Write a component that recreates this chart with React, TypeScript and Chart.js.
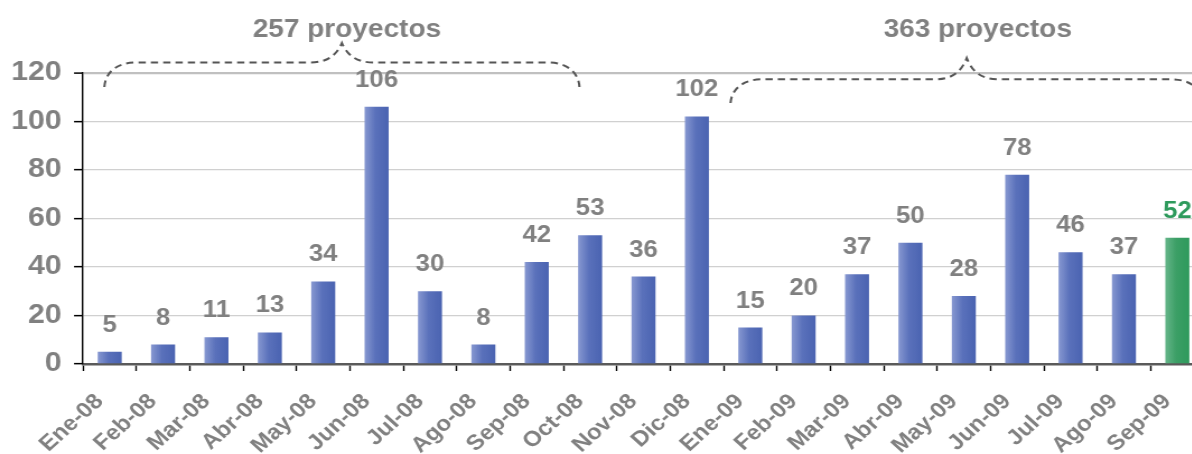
import React, { useEffect, useRef } from "react";
import { Chart, registerables } from "chart.js";

Chart.register(...registerables);

const categories = [
  "Ene-08", "Feb-08", "Mar-08", "Abr-08", "May-08", "Jun-08", "Jul-08", "Ago-08", "Sep-08",
  "Oct-08", "Nov-08", "Dic-08", "Ene-09", "Feb-09", "Mar-09", "Abr-09", "May-09", "Jun-09",
  "Jul-09", "Ago-09", "Sep-09",
];
const projects = [5, 8, 11, 13, 34, 106, 30, 8, 42, 53, 36, 102, 15, 20, 37, 50, 28, 78, 46, 37, 52];
const highlighted = ["Sep-09"];
const yTicks = [0, 20, 40, 60, 80, 100, 120];
const groupLabels = ["257 proyectos", "363 proyectos"];
const groupFirst = ["Ene-08", "Ene-09"];
const groupLast = ["Sep-08", "Sep-09"];

const GRAY = "#808080";
const GREEN = "#2e9a5c";
const FONT = "'Liberation Sans', Arial, sans-serif";

// horizontal stretch of the whole picture (canvas drawn narrower, shown wider)
const K = 1.12;
const CSS_W = 1204;
const CSS_H = 454;
const CANVAS_W = Math.round(CSS_W / K);

const braceStyle = [
  { padL: 0.1, padR: 0.8, flatY: 62.5, endY: 87, peakY: 43, textDx: 5 },
  { padL: 0.37, padR: 0.48, flatY: 79.3, endY: 103, peakY: 58, textDx: 11 },
];

const overlayPlugin = {
  id: "overlay",
  afterDatasetsDraw(chart: any) {
    const ctx = chart.ctx;
    const meta = chart.getDatasetMeta(0);
    ctx.save();
    ctx.font = `bold 23px ${FONT}`;
    ctx.textAlign = "center";
    ctx.textBaseline = "alphabetic";
    meta.data.forEach((bar: any, i: number) => {
      ctx.fillStyle = highlighted.includes(categories[i]) ? GREEN : GRAY;
      ctx.fillText(String(projects[i]), bar.x, bar.y - 20);
    });
    ctx.restore();

    const xs = chart.scales.x;
    const x0 = xs.getPixelForValue(0);
    const step = xs.getPixelForValue(1) - x0;
    const px = (v: number) => x0 + v * step;
    const u = 1 / K;
    ctx.save();
    ctx.strokeStyle = "#555555";
    ctx.lineWidth = 2;
    ctx.setLineDash([6.5, 4.5]);
    groupLabels.forEach((label, g) => {
      const s = braceStyle[g];
      const L = px(categories.indexOf(groupFirst[g]) - s.padL);
      const R = px(categories.indexOf(groupLast[g]) + s.padR);
      const M = (L + R) / 2;
      const F = s.flatY, E = s.endY, P = s.peakY;
      ctx.beginPath();
      ctx.moveTo(L, E);
      ctx.bezierCurveTo(L + 1 * u, F + 10, L + 12 * u, F, L + 32 * u, F);
      ctx.lineTo(M - 32 * u, F);
      ctx.bezierCurveTo(M - 16 * u, F, M - 6 * u, F - 6, M, P);
      ctx.bezierCurveTo(M + 6 * u, F - 6, M + 16 * u, F, M + 32 * u, F);
      ctx.lineTo(R - 32 * u, F);
      ctx.bezierCurveTo(R - 12 * u, F, R - 1 * u, F + 10, R, E);
      ctx.stroke();
      ctx.save();
      ctx.setLineDash([]);
      ctx.fillStyle = GRAY;
      ctx.font = `bold 25px ${FONT}`;
      ctx.textAlign = "center";
      ctx.textBaseline = "alphabetic";
      ctx.fillText(label, M + s.textDx * u, 37);
      ctx.restore();
    });
    ctx.restore();
  },
};

function barFill(context: any) {
  const chart = context.chart;
  const i = context.dataIndex;
  const green = highlighted.includes(categories[i]);
  const base = green ? GREEN : "#4a63b1";
  const xs = chart.scales?.x;
  if (!xs || !chart.chartArea || i === undefined) return base;
  const cx = xs.getPixelForValue(i);
  const half = ((xs.getPixelForValue(1) - xs.getPixelForValue(0)) * 0.45) / 2;
  const g = chart.ctx.createLinearGradient(cx - half, 0, cx + half, 0);
  if (green) {
    g.addColorStop(0, "#66b68a");
    g.addColorStop(0.45, "#3c9f66");
    g.addColorStop(1, "#2e9a5c");
  } else {
    g.addColorStop(0, "#8798d1");
    g.addColorStop(0.45, "#5a71bb");
    g.addColorStop(1, "#4a63b1");
  }
  return g;
}

export default function App() {
  const ref = useRef<HTMLCanvasElement | null>(null);
  useEffect(() => {
    if (!ref.current) return;
    const chart = new Chart(ref.current, {
      type: "bar",
      data: {
        labels: categories,
        datasets: [
          {
            data: projects,
            backgroundColor: barFill,
            barPercentage: 0.45,
            categoryPercentage: 1,
            borderWidth: 0,
          },
        ],
      },
      options: {
        responsive: false,
        animation: false,
        devicePixelRatio: 1,
        layout: { padding: { top: 72.7, left: 0, right: 0, bottom: 0 } },
        plugins: { legend: { display: false }, tooltip: { enabled: false } },
        scales: {
          x: {
            offset: true,
            grid: {
              offset: true,
              drawOnChartArea: false,
              drawTicks: true,
              tickLength: 7,
              tickColor: "#000000",
              tickWidth: 1.4,
            },
            border: { color: "#5a5a5a", width: 2.5 },
            ticks: {
              autoSkip: false,
              minRotation: 45,
              maxRotation: 45,
              color: GRAY,
              padding: 18,
              labelOffset: -9,
              font: { family: FONT, size: 21.5, weight: "bold" },
            },
            afterFit(scale: any) {
              scale.height = CSS_H - 364;
              scale.paddingLeft = 0;
              scale.paddingRight = 0;
            },
          },
          y: {
            min: yTicks[0],
            max: yTicks[yTicks.length - 1],
            afterBuildTicks(scale: any) {
              scale.ticks = yTicks.map((v) => ({ value: v }));
            },
            grid: {
              color: (c: any) =>
                c.tick && c.tick.value === 0 ? "rgba(0,0,0,0)" : c.tick && c.tick.value === 120 ? "#c0c0c0" : "#d0d0d0",
              lineWidth: (c: any) => (c.tick && c.tick.value === 120 ? 2.2 : 1.3),
              tickLength: 8,
              tickColor: "#000000",
              tickWidth: 1.5,
            },
            border: { color: "#000000", width: 1.4 },
            ticks: {
              color: GRAY,
              padding: 11,
              font: { family: FONT, size: 27, weight: "bold" },
            },
            afterFit(scale: any) {
              scale.width = 83 / K;
            },
          },
        },
      },
      plugins: [overlayPlugin],
    });
    return () => chart.destroy();
  }, []);
  return (
    <div
      style={{
        position: "fixed",
        left: 0,
        top: 0,
        width: 1192,
        height: 454,
        overflow: "hidden",
        background: "#ffffff",
      }}
    >
      <canvas
        ref={ref}
        width={CANVAS_W}
        height={CSS_H}
        style={{ width: CSS_W, height: CSS_H, display: "block" }}
      />
    </div>
  );
}
